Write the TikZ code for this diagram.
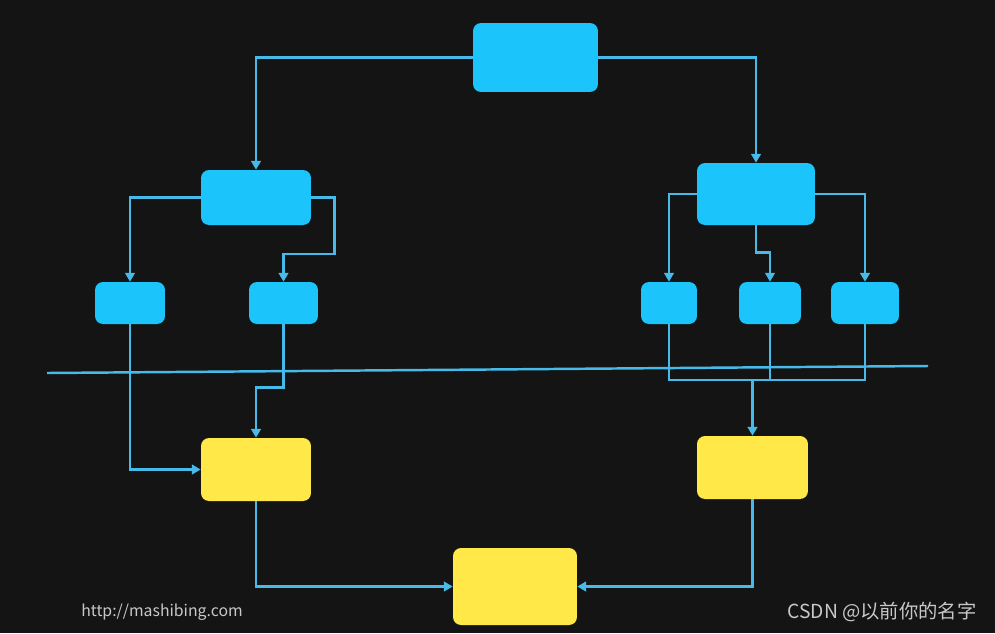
\documentclass[tikz,border=0pt]{standalone}
\usepackage{fontspec}
\usetikzlibrary{arrows.meta}
\newfontfamily\cjk{Noto Sans CJK SC}
\definecolor{board}{RGB}{20,20,20}
\definecolor{boxblue}{RGB}{28,196,252}
\definecolor{linkblue}{RGB}{70,186,232}
\definecolor{boxyellow}{RGB}{255,232,72}
\definecolor{inkgray}{RGB}{200,200,200}
\tikzset{
  box/.style={rounded corners=1.6mm, inner sep=0pt, draw=none},
  bluebox/.style={box, fill=boxblue},
  yellowbox/.style={box, fill=boxyellow},
  line/.style={draw=linkblue, line width=1.4pt},
  link/.style={line, -{Triangle[length=5pt,width=5.5pt]}},
  tag/.style={text=inkgray, inner sep=0pt, font=\cjk}
}
\begin{document}
\begin{tikzpicture}[x=0.02cm, y=-0.02cm]
    \fill[board] (0,0) rectangle (995,633);
    \useasboundingbox (0,0) rectangle (995,633);
    \node[bluebox, minimum width=2.5cm, minimum height=1.38cm] (top) at (535.5,57.5) {};
    \node[bluebox, minimum width=2.2cm, minimum height=1.1cm] (l1) at (256,197.5) {};
    \node[bluebox, minimum width=2.36cm, minimum height=1.24cm] (r1) at (756,194) {};
    \node[bluebox, minimum width=1.4cm, minimum height=0.84cm] (ll) at (130,303) {};
    \node[bluebox, minimum width=1.38cm, minimum height=0.84cm] (lr) at (283.5,303) {};
    \node[bluebox, minimum width=1.12cm, minimum height=0.84cm] (ra) at (669,303) {};
    \node[bluebox, minimum width=1.24cm, minimum height=0.84cm] (rb) at (770,303) {};
    \node[bluebox, minimum width=1.36cm, minimum height=0.84cm] (rc) at (865,303) {};
    \node[yellowbox, minimum width=2.2cm, minimum height=1.26cm] (yl) at (256,469.5) {};
    \node[yellowbox, minimum width=2.22cm, minimum height=1.26cm] (yr) at (752.5,467.5) {};
    \node[yellowbox, minimum width=2.48cm, minimum height=1.54cm] (yb) at (515,586.5) {};
    \node[tag, font=\cjk\small] (site) at (162,612) {http://mashibing.com};
    \node[tag, font=\cjk\fontsize{11}{13}\selectfont] (mark) at (882,612) {CSDN @以前你的名字};
    \coordinate (cutl) at (47,373);
    \coordinate (cutr) at (928,366);
    \coordinate (jr) at (752.5,380);
    \draw[link] (top) -| (l1);
    \draw[link] (top) -| (r1);
    \draw[link] (l1) -| (ll);
    \draw[link] (l1.east) -- ++(23,0) -- ++(0,56.5) -| (lr);
    \draw[link] (r1) -| (ra);
    \draw[link] (r1.south) -- ++(0,27) -| (rb);
    \draw[link] (r1) -| (rc);
    \draw[line] (cutl) -- (cutr);
    \draw[link] (ll) |- (yl);
    \draw[link] (lr.south) -- ++(0,63) -| (yl);
    \draw[line] (ra) |- (jr) -| (rc);
    \draw[line] (rb) -- (rb |- jr);
    \draw[link] (jr) -- (yr);
    \draw[link] (yl) |- (yb);
    \draw[link] (yr) |- (yb);
\end{tikzpicture}
\end{document}
